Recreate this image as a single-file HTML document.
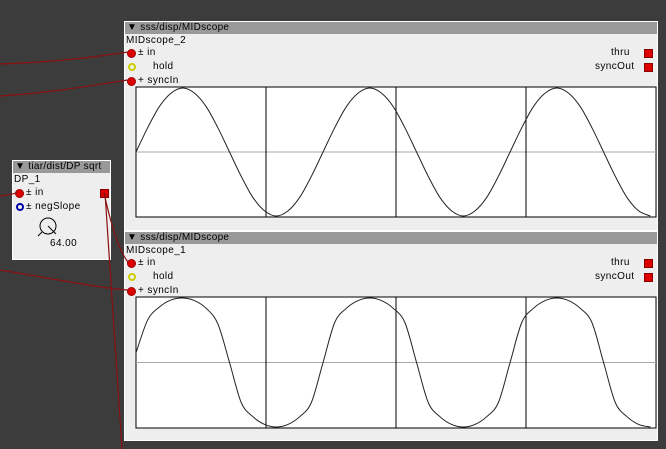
<!DOCTYPE html>
<html><head><meta charset="utf-8"><style>
body{margin:0;width:666px;height:449px;background:#3c3c3c;overflow:hidden;position:relative;font-family:"Liberation Sans",sans-serif;font-size:10px;color:#000}
.box{position:absolute;background:#eeeeee;border:1px solid #fff}
.hdr{position:absolute;left:0;right:0;top:0;height:12px;background:#999;font-size:10px;line-height:12px;padding-left:2px;letter-spacing:.3px}
.t{position:absolute;font-size:10px;line-height:12px;white-space:nowrap;letter-spacing:.4px}
.dot{position:absolute;width:9px;height:9px;border-radius:50%;background:#d00;border:1px solid #900;box-sizing:border-box}
.ring{position:absolute;width:8px;height:8px;border-radius:50%;border:2px solid;box-sizing:border-box}
.sq{position:absolute;width:9px;height:9px;background:#d00;border:1px solid #800;box-sizing:border-box}
svg{position:absolute;left:0;top:0}
</style></head><body>
<div class="box" style="left:124px;top:21px;width:532px;height:208px">
 <div class="hdr">▼ sss/disp/MIDscope</div>
 <div class="t" style="left:1px;top:13px">MIDscope_2</div>
 <div class="dot" style="left:2px;top:27px"></div>
 <div class="t" style="left:13px;top:25px">± in</div>
 <div class="ring" style="left:3px;top:41px;border-color:#cc0"></div>
 <div class="t" style="left:28px;top:39px">hold</div>
 <div class="dot" style="left:2px;top:55px"></div>
 <div class="t" style="left:13px;top:53px">+ syncIn</div>
 <div class="t" style="left:486px;top:25px">thru</div>
 <div class="sq" style="left:519px;top:27px"></div>
 <div class="t" style="left:470px;top:39px">syncOut</div>
 <div class="sq" style="left:519px;top:41px"></div>
</div>
<div class="box" style="left:124px;top:231px;width:532px;height:208px">
 <div class="hdr">▼ sss/disp/MIDscope</div>
 <div class="t" style="left:1px;top:13px">MIDscope_1</div>
 <div class="dot" style="left:2px;top:27px"></div>
 <div class="t" style="left:13px;top:25px">± in</div>
 <div class="ring" style="left:3px;top:41px;border-color:#cc0"></div>
 <div class="t" style="left:28px;top:39px">hold</div>
 <div class="dot" style="left:2px;top:55px"></div>
 <div class="t" style="left:13px;top:53px">+ syncIn</div>
 <div class="t" style="left:486px;top:25px">thru</div>
 <div class="sq" style="left:519px;top:27px"></div>
 <div class="t" style="left:470px;top:39px">syncOut</div>
 <div class="sq" style="left:519px;top:41px"></div>
</div>
<div class="box" style="left:12px;top:160px;width:97px;height:98px">
 <div class="hdr">▼ tiar/dist/DP sqrt</div>
 <div class="t" style="left:1px;top:13px">DP_1</div>
 <div class="dot" style="left:2px;top:28px"></div>
 <div class="t" style="left:13px;top:26px">± in</div>
 <div class="sq" style="left:87px;top:28px"></div>
 <div class="ring" style="left:3px;top:42px;border-color:#00a"></div>
 <div class="t" style="left:13px;top:40px">± negSlope</div>
 <div class="t" style="left:37px;top:77px">64.00</div>
</div>
<svg width="666" height="449">
 <g fill="none" stroke="#000" stroke-width="1">
  <circle cx="48" cy="226" r="8"/><line x1="48" y1="226" x2="56" y2="234"/><line x1="42" y1="232" x2="38" y2="236"/>
 </g>
 <rect x="136" y="87" width="520" height="130" fill="#fff" stroke="#000"/>
 <rect x="136" y="297" width="520" height="131" fill="#fff" stroke="#000"/>
 <g id="g2"></g><g id="g1"></g>
 <g fill="none" stroke="#8a1010" stroke-width="1.2">
  <path d="M0,64 C60,62 100,56 128,52"/>
  <path d="M0,96 C60,92 100,84 128,80"/>
  <path d="M0,196 C8,195 12,194 17,193"/>
  <path d="M104,193 C110,220 118,250 128,262"/>
  <path d="M0,270 C60,280 100,288 128,290"/>
  <path d="M105,193 L122,449"/>
 </g>
</svg>
<script>
// scope data: samples spaced 1/16 period
const sineValues=[0,0.38,0.71,0.92,1,0.92,0.71,0.38,0,-0.38,-0.71,-0.92,-1,-0.92,-0.71,-0.38,0,0.38,0.71,0.92,1,0.92,0.71,0.38,0,-0.38,-0.71,-0.92,-1,-0.92,-0.71,-0.38,0,0.38,0.71,0.92,1,0.92,0.71,0.38,0,-0.38,-0.71,-0.92,-1];
const sqrtValues=[0.15,0.66,0.86,0.97,1,0.96,0.84,0.6,0,-0.62,-0.84,-0.96,-1,-0.96,-0.84,-0.62,0,0.62,0.84,0.96,1,0.96,0.84,0.62,0,-0.62,-0.84,-0.96,-1,-0.96,-0.84,-0.62,0,0.62,0.84,0.96,1,0.96,0.84,0.62,0,-0.62,-0.84,-0.96,-1];
const divisions=[1,2,3];
const NS='http://www.w3.org/2000/svg';
function drawScope(gid,vals,top,h,name){
 const g=document.getElementById(gid);
 const left=136,w=520,mid=top+h/2,amp=h/2-1;
 const x=i=>left+i*11.69, y=v=>mid-v*amp;
 const ml=document.createElementNS(NS,'line');
 ml.setAttribute('x1',left);ml.setAttribute('x2',left+w);ml.setAttribute('y1',mid);ml.setAttribute('y2',mid);ml.setAttribute('stroke','#aaa');
 
 
 g.appendChild(ml);
 divisions.forEach(d=>{const l=document.createElementNS(NS,'line');const xx=left+d*w/4;
  l.setAttribute('x1',xx);l.setAttribute('x2',xx);l.setAttribute('y1',top);l.setAttribute('y2',top+h);l.setAttribute('stroke','#000');
  
  
  g.appendChild(l);});
 const P=vals.map((v,i)=>[x(i),y(v)]);
 let d='M'+P[0][0]+','+P[0][1];
 for(let i=0;i<P.length-1;i++){
  const p0=P[Math.max(0,i-1)],p1=P[i],p2=P[i+1],p3=P[Math.min(P.length-1,i+2)];
  const c1=[p1[0]+(p2[0]-p0[0])/6,p1[1]+(p2[1]-p0[1])/6];
  const c2=[p2[0]-(p3[0]-p1[0])/6,p2[1]-(p3[1]-p1[1])/6];
  d+=' C'+c1[0]+','+c1[1]+' '+c2[0]+','+c2[1]+' '+p2[0]+','+p2[1];
 }
 const p=document.createElementNS(NS,'path');
 p.setAttribute('d',d);p.setAttribute('fill','none');p.setAttribute('stroke','#222');p.setAttribute('stroke-width','1');
 
 
 g.appendChild(p);
}
drawScope('g2',sineValues,87,130,'scope-2');
drawScope('g1',sqrtValues,297,131,'scope-1');
</script>
</body></html>
